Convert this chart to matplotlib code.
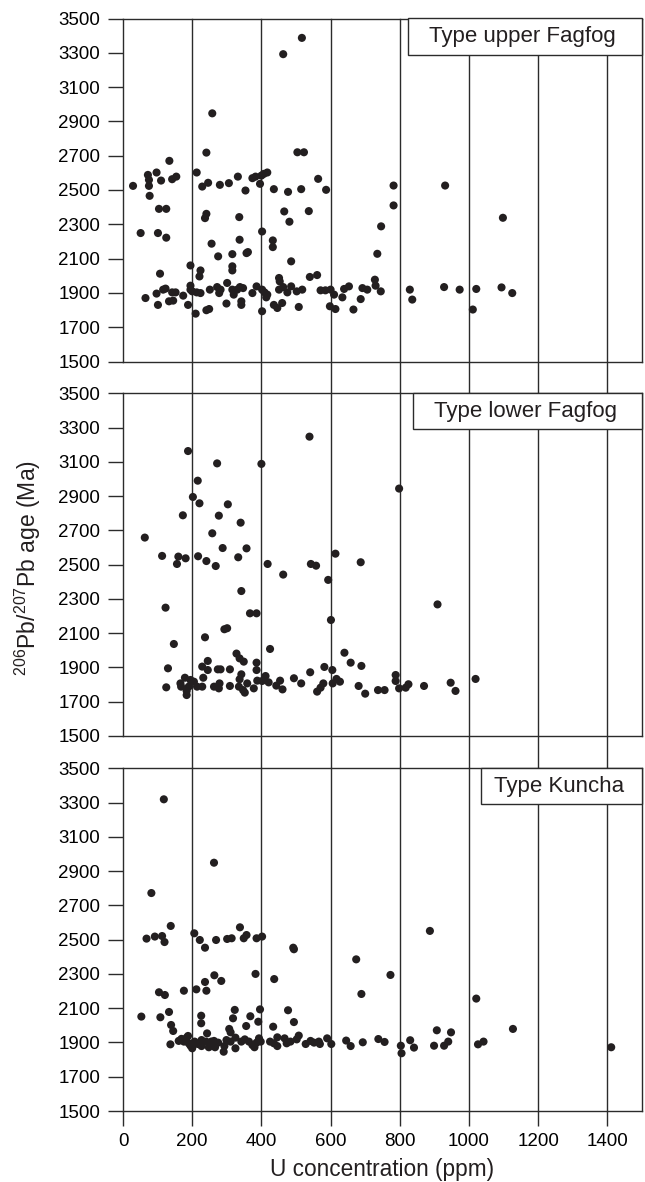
import matplotlib
matplotlib.use("Agg")
import matplotlib.pyplot as plt
from matplotlib.patches import Rectangle

plt.rcParams['font.family'] = ['Liberation Sans', 'DejaVu Sans']
plt.rcParams['mathtext.fontset'] = 'custom'
plt.rcParams['mathtext.rm'] = 'Liberation Sans'
plt.rcParams['mathtext.it'] = 'Liberation Sans:italic'

# ---------------- data ----------------
panel_titles = ["Type upper Fagfog", "Type lower Fagfog", "Type Kuncha"]
y_ticks = [1500, 1700, 1900, 2100, 2300, 2500, 2700, 2900, 3100, 3300, 3500]
x_ticks = [0, 200, 400, 600, 800, 1000, 1200, 1400]
grid_x = [200, 400, 600, 800, 1000, 1200, 1400]

upper_u = [29, 72, 75, 75, 97, 110, 134, 142, 154, 77,
           104, 125, 51, 101, 125, 107, 65, 97, 116, 123,
           142, 152, 101, 133, 145, 174, 188, 195, 195, 210,
           200, 213, 224, 241, 249, 251, 272, 278, 282, 299,
           301, 316, 320, 330, 338, 347, 342, 342, 374, 386,
           402, 409, 417, 414, 402, 436, 446, 460, 451, 463,
           475, 486, 502, 518, 508, 571, 585, 600, 610, 598,
           614, 634, 639, 653, 666, 687, 692, 706, 728, 730,
           745, 735, 746, 451, 453, 486, 540, 561, 195, 224,
           221, 316, 316, 275, 316, 357, 361, 256, 337, 402,
           433, 433, 237, 241, 336, 466, 481, 537, 258, 241,
           463, 517, 504, 523, 213, 229, 246, 280, 306, 332,
           354, 374, 383, 396, 400, 407, 417, 436, 477, 515, 564, 587,
           782, 782, 931, 1098, 829, 836, 928, 973, 1021, 1011, 1094, 1125]
upper_age = [2524, 2588, 2559, 2524, 2602, 2555, 2670, 2563, 2578, 2466,
             2390, 2390, 2249, 2249, 2222, 2012, 1870, 1896, 1919, 1925,
             1903, 1903, 1830, 1851, 1855, 1884, 1830, 1942, 1919, 1779,
             1909, 1903, 1899, 1799, 1806, 1919, 1934, 1899, 1919, 1838,
             1958, 1919, 1890, 1919, 1934, 1928, 1851, 1830, 1899, 1938,
             1919, 1903, 1890, 1874, 1793, 1830, 1812, 1841, 1919, 1934,
             1903, 1938, 1909, 1919, 1818, 1915, 1915, 1919, 1890, 1822,
             1806, 1874, 1923, 1938, 1803, 1864, 1928, 1919, 1977, 1942,
             1909, 2128, 2288, 1987, 1967, 2084, 1993, 2004, 2060, 2031,
             1996, 2055, 2031, 2113, 2126, 2132, 2138, 2187, 2210, 2258,
             2206, 2167, 2336, 2361, 2342, 2375, 2315, 2377, 2947, 2718,
             3292, 3387, 2720, 2720, 2602, 2520, 2542, 2530, 2540, 2578,
             2497, 2569, 2578, 2536, 2584, 2594, 2602, 2505, 2489, 2505, 2565, 2501,
             2526, 2410, 2526, 2338, 1919, 1861, 1934, 1919, 1923, 1803, 1932, 1899]

lower_u = [63, 113, 123, 147, 130, 125, 156, 160, 181, 173,
           188, 202, 216, 221, 217, 241, 258, 272, 277, 303,
           340, 288, 268, 333, 357, 342, 367, 386, 293, 301,
           237, 400, 418, 463, 539, 543, 558, 593, 614, 687,
           601, 425, 640, 658, 689, 582, 605, 541, 494, 515,
           454, 461, 443, 412, 421, 402, 388, 386, 386, 378,
           359, 352, 347, 335, 337, 342, 349, 337, 328, 309,
           309, 282, 274, 279, 277, 263, 245, 245, 229, 232,
           229, 214, 205, 195, 190, 184, 184, 179, 166, 168,
           561, 571, 579, 606, 617, 627, 681, 700, 737, 756,
           798, 909, 788, 788, 798, 817, 825, 870, 947, 961, 1019]
lower_age = [2658, 2551, 2249, 2037, 1895, 1784, 2504, 2547, 2537, 2788,
             3163, 2895, 2990, 2858, 2549, 2521, 2683, 3091, 2786, 2852,
             2745, 2597, 2492, 2543, 2595, 2346, 2216, 2216, 2123, 2129,
             2076, 3088, 2504, 2442, 3247, 2504, 2494, 2411, 2564, 2514,
             2177, 2008, 1986, 1928, 1909, 1903, 1885, 1872, 1837, 1807,
             1823, 1772, 1794, 1850, 1813, 1821, 1823, 1928, 1885, 1778,
             1807, 1753, 1768, 1788, 1831, 1860, 1934, 1953, 1981, 1889,
             1792, 1889, 1889, 1807, 1778, 1788, 1885, 1938, 1905, 1840,
             1788, 1788, 1817, 1827, 1788, 1739, 1763, 1840, 1807, 1788,
             1759, 1782, 1807, 1807, 1833, 1817, 1792, 1747, 1768, 1768,
             2944, 2268, 1856, 1821, 1778, 1782, 1802, 1792, 1811, 1763, 1833]

kuncha_u = [118, 82, 263, 68, 92, 113, 120, 138, 206, 222,
            237, 269, 301, 314, 338, 349, 357, 386, 402, 492,
            494, 674, 689, 773, 104, 121, 176, 212, 237, 241,
            264, 284, 383, 437, 53, 108, 133, 139, 145, 137,
            226, 226, 243, 323, 318, 307, 311, 356, 368, 391,
            396, 434, 477, 494,
            161, 169, 176, 184, 188, 190, 195, 200, 207, 216,
            227, 227, 240, 248, 255, 266, 263, 275, 293, 291,
            299, 311, 325, 325, 342, 352, 364, 374, 380, 386,
            393, 398, 425, 436, 446, 446, 467, 473, 484, 502,
            508, 528, 542, 552, 566, 569, 590, 602, 645, 658,
            693, 738, 756,
            887, 1021, 907, 948, 1127, 803, 805, 830, 841, 899,
            928, 940, 1026, 1042, 1411]
kuncha_age = [3319, 2772, 2949, 2506, 2518, 2521, 2486, 2580, 2537, 2498,
              2453, 2498, 2504, 2508, 2572, 2508, 2527, 2508, 2518, 2453,
              2444, 2385, 2183, 2294, 2193, 2177, 2202, 2210, 2253, 2202,
              2292, 2259, 2300, 2270, 2051, 2047, 2078, 2002, 1967, 1889,
              2056, 2012, 1953, 2090, 2041, 1979, 1959, 1996, 2053, 2021,
              2093, 1992, 2088, 2019,
              1909, 1921, 1905, 1928, 1938, 1895, 1881, 1866, 1905, 1891,
              1914, 1879, 1905, 1872, 1905, 1872, 1909, 1899, 1879, 1846,
              1914, 1905, 1928, 1866, 1905, 1918, 1905, 1885, 1872, 1899,
              1924, 1905, 1905, 1895, 1930, 1879, 1924, 1895, 1905, 1918,
              1940, 1891, 1909, 1899, 1905, 1891, 1924, 1891, 1911, 1879,
              1901, 1920, 1903,
              2551, 2156, 1971, 1959, 1979, 1881, 1837, 1913, 1870, 1881,
              1881, 1905, 1889, 1905, 1872]

series = [(upper_u, upper_age), (lower_u, lower_age), (kuncha_u, kuncha_age)]

# ---------------- layout ----------------
W, H = 645, 1182
fig = plt.figure(figsize=(W / 100, H / 100), dpi=100)
line_col = '#2b2b2b'
dot_col = '#231f20'

left_px, right_px = 123, 642
panels_px = [(18.5, 361.5), (393.3, 736.0), (768.3, 1111.0)]
box_left_px = [407.7, 413.3, 480.7]
box_h_px = 36

axes = []
for i, (top, bot) in enumerate(panels_px):
    ax = fig.add_axes([left_px / W, 1 - bot / H, (right_px - left_px) / W, (bot - top) / H])
    axes.append(ax)
    u, a = series[i]
    ax.set_xlim(0, 1500)
    ax.set_ylim(1500, 3500)
    ax.set_yticks(y_ticks)
    ax.tick_params(axis='y', direction='out', length=11, width=1.0, color=line_col,
                   labelsize=13.5, pad=5.5)
    for sp in ax.spines.values():
        sp.set_color(line_col)
        sp.set_linewidth(1.0)
    height_px = bot - top
    if i < 2:
        gap_px = panels_px[i + 1][0] - bot
        ext = gap_px / height_px
        ax.set_xticks([])
    else:
        ext = 0
        ax.set_xticks(x_ticks)
        ax.tick_params(axis='x', direction='out', length=11, width=1.0, color=line_col,
                       labelsize=13.5, pad=4.5)
    for gx in grid_x:
        ax.axvline(gx, ymin=-ext, ymax=1, color=line_col, lw=1.0, clip_on=False, zorder=1)
    ax.scatter(u, a, s=34, color=dot_col, edgecolors='none', zorder=3)

    bx = (box_left_px[i] - left_px) / (right_px - left_px)
    bh = box_h_px / height_px
    ax.add_patch(Rectangle((bx, 1 - bh), 1 - bx, bh, transform=ax.transAxes,
                           facecolor='white', edgecolor=line_col, lw=1.0, zorder=4,
                           clip_on=False))
    ax.text((bx + 1) / 2 - 0.004, 1 - bh / 2, panel_titles[i], transform=ax.transAxes,
            ha='center', va='center', fontsize=16, color='#231f20', zorder=5)

axes[2].set_xlabel('U concentration (ppm)', fontsize=16.3, labelpad=6, color='#231f20')
fig.text(28 / W, 1 - 568 / H, r'$^{206}$Pb/$^{207}$Pb age (Ma)', rotation=90,
         ha='center', va='center', fontsize=16.5, color='#231f20')

fig.savefig('out.png', dpi=100)
